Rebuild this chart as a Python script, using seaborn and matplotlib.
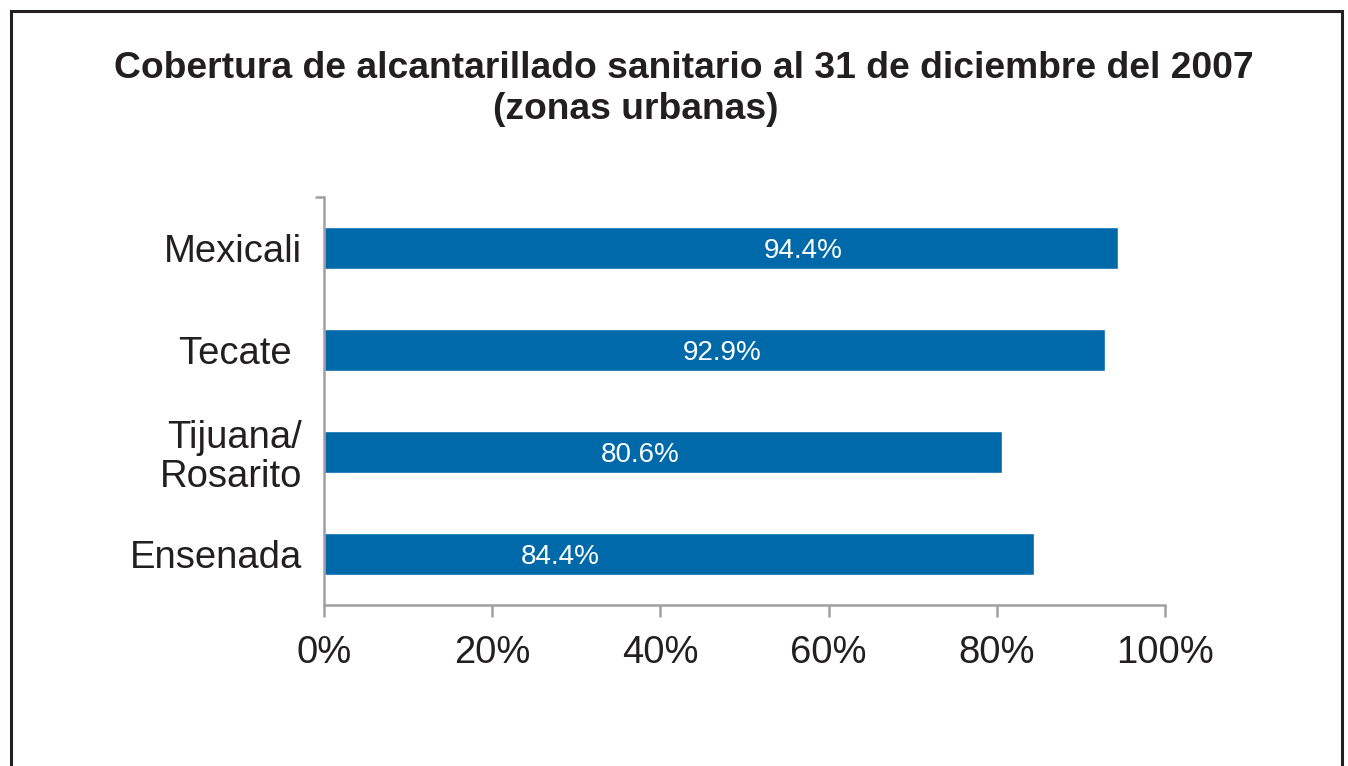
import matplotlib
matplotlib.use("Agg")
import matplotlib.pyplot as plt
import seaborn as sns
import pandas as pd
from matplotlib.patches import Rectangle
from matplotlib.ticker import FixedLocator

categories = ["Mexicali", "Tecate ", "Tijuana/\nRosarito", "Ensenada"]
values = [94.4, 92.9, 80.6, 84.4]
value_labels = ["94.4%", "92.9%", "80.6%", "84.4%"]
x_ticks = [0, 20, 40, 60, 80, 100]
x_tick_labels = ["0%", "20%", "40%", "60%", "80%", "100%"]
title_line1 = "Cobertura de alcantarillado sanitario al 31 de diciembre del 2007"
title_line2 = "(zonas urbanas)"

# label anchor positions (style)
label_x = [57.0, 47.3, 37.6, 28.1]

sns.set_theme(style="white")
plt.rcParams["font.family"] = ["Liberation Sans", "DejaVu Sans"]

df = pd.DataFrame({"cat": categories, "val": values})

fig = plt.figure(figsize=(13.48, 7.66), dpi=100)
ax = fig.add_axes([324/1348, 1-605/766, (1165-324)/1348, (605-197)/766])

sns.barplot(data=df, x="val", y="cat", orient="h", color="#0069AA",
            width=0.41, saturation=1, ax=ax)

ax.set_xlim(0, 100)
ax.set_ylim(3.5, -0.5)
ax.set_xlabel("")
ax.set_ylabel("")

spine_col = "#A0A0A4"
for s in ["top", "right"]:
    ax.spines[s].set_visible(False)
for s in ["left", "bottom"]:
    ax.spines[s].set_color(spine_col)
    ax.spines[s].set_linewidth(1.8)

ax.set_xticks(x_ticks)
ax.set_xticklabels(x_tick_labels, fontsize=27.5, color="#231F20")
ax.tick_params(axis="x", which="major", direction="out", length=8.5, width=1.8,
               color=spine_col, pad=13, bottom=True)
ax.set_yticks(range(len(categories)))
ax.set_yticklabels(categories, fontsize=27.5, color="#231F20", linespacing=1.1)
ax.tick_params(axis="y", which="major", length=0, pad=16)
ax.yaxis.set_minor_locator(FixedLocator([-0.5]))
ax.tick_params(axis="y", which="minor", left=True, direction="out", length=6.5,
               width=1.8, color=spine_col)

for i, (lx, lab) in enumerate(zip(label_x, value_labels)):
    ax.text(lx, i, lab, ha="center", va="center_baseline", color="white", fontsize=20)

fig.text(684/1348, 1-78/766, title_line1, ha="center", va="baseline",
         fontsize=26.8, fontweight="bold", color="#231F20")
fig.text(636/1348, 1-119/766, title_line2, ha="center", va="baseline",
         fontsize=26.8, fontweight="bold", color="#231F20")

frame = Rectangle((11/1348, -0.05), (1342-11)/1348, 1.05 - 11/766,
                  transform=fig.transFigure, fill=False, edgecolor="#231F20",
                  linewidth=2.2, clip_on=False)
fig.patches.append(frame)

fig.savefig("out.png", dpi=100)
